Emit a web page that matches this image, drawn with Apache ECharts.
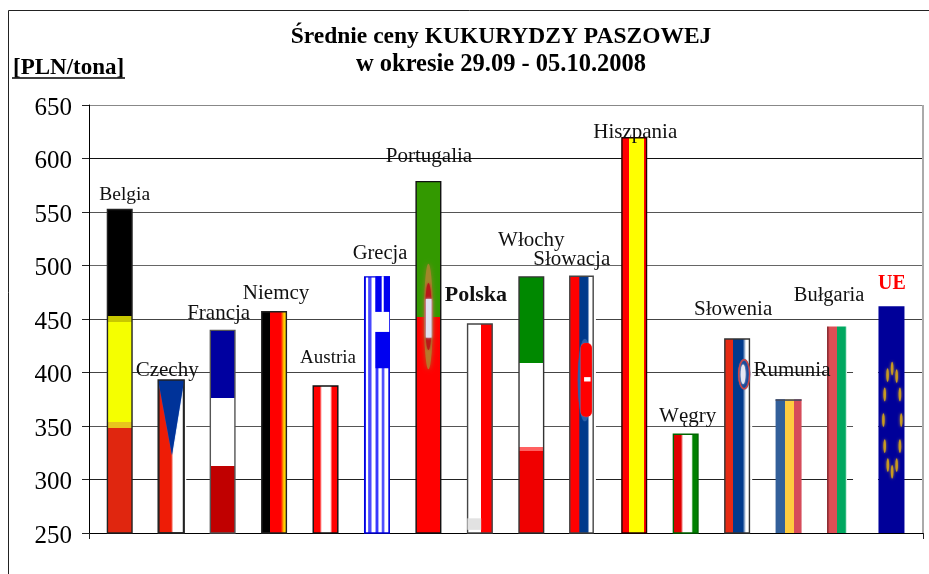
<!DOCTYPE html>
<html>
<head>
<meta charset="utf-8">
<style>html,body{margin:0;padding:0;background:#fff}#c{width:929px;height:574px}</style>
<script src="https://cdn.jsdelivr.net/npm/echarts@6/dist/echarts.min.js"></script>
</head>
<body>
<div id="c"></div>
<script>
const titleLine1 = 'Średnie ceny KUKURYDZY PASZOWEJ';
const titleLine2 = 'w okresie 29.09 - 05.10.2008';
const unitText = '[PLN/tona]';
const categories = ['Belgia','Czechy','Francja','Niemcy','Austria','Grecja','Portugalia','Polska','Włochy','Słowacja','Hiszpania','Węgry','Słowenia','Rumunia','Bułgaria','UE'];
const prices = [553,393,440,457.5,388,490,579,446,490,490,620,343,432,375,443,462];
const axisMin = 250, axisMax = 650, axisStep = 50;

/* ---- appearance only ---- */
const serif = '"Liberation Serif","Times New Roman",serif';
const barWidth = 26;
const labelOffsets = [[5,-14],[-4,-10],[-4,-16],[2,-17],[2.5,-27],[3,-23],[0.6,-24],[-4,-28],[0,-36],[-11,-17],[1,-5],[2,-17.5],[-4,-29],[3.4,-29],[-11,-30.5],[0.5,-22]];
const labelFonts = {Austria:19, Belgia:19.5, Polska:22, UE:20, Grecja:20.5, 'Bułgaria':20.5};
const labelSpecial = {Polska:{fontWeight:'bold'}, UE:{fontWeight:'bold',color:'#ff0000'}};

/* [colour, start, end] bands; a gap between bands gives a soft edge */
const flags = [
 {d:'v',b:'#222',s:[['#000',0,.33],['#c8c800',.33,.349],['#f5ff00',.349,.656],['#e8c51e',.656,.675],['#e0260f',.675,1]]},
 {d:'h',b:'#222',s:[['#ee1c06',0,.5],['#fff',.58,1]]},
 {d:'v',b:'#555',s:[['#0000a0',0,.333],['#fff',.333,.669],['#c00000',.669,1]]},
 {d:'h',b:'#222',s:[['#000',0,.35],['#ff0000',.35,.76],['#ffd000',.88,1]]},
 {d:'h',b:'#111',s:[['#ff0000',0,.28],['#fff',.36,.68],['#ff0000',.76,1]]},
 {d:'h',b:'#0000e0',s:[['#0000f0',0,.05],['#fff',.09,.14],['#4848ff',.18,.27],['#fff',.31,.42],['#3838ff',.47,.53],['#fff',.58,.66],['#5050ff',.71,.76],['#fff',.81,.93],['#0000f0',.96,1]]},
 {d:'v',b:'#111',s:[['#339900',0,.386],['#ff0000',.386,1]]},
 {d:'h',b:'#444',s:[['#fff',0,.55],['#ff0000',.55,1]]},
 {d:'v',b:'#333',s:[['#008800',0,.337],['#fff',.337,.664],['#ff6060',.664,.68],['#f00000',.68,1]]},
 {d:'h',b:null,s:[['#ff0000',0,.36],['#003a8c',.38,.68],['#fff',.76,1]]},
 {d:'h',b:'#200',s:[['#ff0000',0,.28],['#ffff00',.28,.885],['#ff0000',.885,1]]},
 {d:'h',b:'#060',s:[['#e00000',0,.32],['#fff',.4,.72],['#008000',.78,1]]},
 {d:'h',b:'#333',s:[['#e52a14',0,.36],['#003a8c',.36,.72],['#fff',.84,1]]},
 {d:'h',b:null,s:[['#33609a',0,.35],['#ffcc40',.35,.72],['#d64c5a',.72,1]]},
 {d:'h',b:null,s:[['#8a2a30',0,.03],['#dd4f55',.1,.385],['#00a860',.385,.7],['#ffffff',.76,.77],['rgba(255,255,255,0)',.77,1]]},
 {d:'h',b:null,s:[['#000099',0,1]]}
];

/* white margins behind some pictures, [x0,y0,x1,y1] as fractions of the bar */
const halos = {1:[[1,.0,1.08,1]],9:[[.9,0,1,1]],12:[[1,0,1.08,1]],14:[[1,0,1.96,1]]};

const star = (x,y)=>({k:'ell',cx:x,cy:y,rx:.05,ry:.03,fill:'#c89a20',blur:3,shadow:'#b89030'});
/* overlays, in fractions of the bar rectangle */
const overlays = {
 1:[{k:'poly',pts:[[0,0],[1,0],[.53,.49]],fill:'#003399',blur:1,shadow:'#3366cc'},
    {k:'rect',r:[0,0,1,1],fill:'none',stroke:'#222'}],
 5:[{k:'rect',r:[.44,0,1,.358],fill:'#0000f0'},{k:'rect',r:[.68,0,.76,.139],fill:'#ffffff'},{k:'rect',r:[.36,.139,.97,.217],fill:'#ffffff'}],
 6:[{k:'ell',cx:.5,cy:.385,rx:.17,ry:.15,fill:'rgba(176,132,48,0.8)',blur:5,shadow:'#a07a30'},
    {k:'ell',cx:.5,cy:.385,rx:.13,ry:.095,fill:'#b81818',blur:3,shadow:'#c01818'},
    {k:'rect',r:[.4,.335,.62,.445],fill:'#dfe0f0',blur:3,shadow:'#c0c0e0'}],
 7:[{k:'rect',r:[.02,.93,.55,.985],fill:'#e2e2e2'}],
 9:[{k:'rect',r:[.0,0,.9,1],fill:'none',stroke:'#444'},
    {k:'ell',cx:.58,cy:.405,rx:.27,ry:.16,fill:'#2a5fa8',blur:1,shadow:'#2a5fa8'},
    {k:'rect',r:[.42,.26,.85,.547],fill:'#ff0000',round:5,blur:1,shadow:'#ff6060'},
    {k:'rect',r:[.55,.393,.8,.41],fill:'#fff'}],
 12:[{k:'ell',cx:.77,cy:.185,rx:.21,ry:.075,fill:'#1a4a9a',stroke:'#d04040',blur:1,shadow:'#5070b0'},
    {k:'ell',cx:.73,cy:.185,rx:.09,ry:.05,fill:'#e8e8f4',blur:2,shadow:'#ffffff'}],
 13:[{k:'rect',r:[0,0,1,.012],fill:'#444a60'}],
 15:[star(.525,.275),star(.35,.304),star(.7,.308),star(.24,.389),star(.825,.389),star(.19,.502),star(.875,.502),star(.24,.617),star(.825,.617),star(.36,.70),star(.7,.70),star(.525,.73)]
};

function flagFill(f){
  const st=[];
  f.s.forEach(b=>{st.push({offset:b[1],color:b[0]});st.push({offset:b[2],color:b[0]});});
  return {type:'linear',x:0,y:0,x2:f.d==='h'?1:0,y2:f.d==='h'?0:1,colorStops:st};
}

function shapesRenderer(table){
  return function(params,api){
    const i=api.value(0), top=api.coord([i,api.value(1)]), base=api.coord([i,axisMin]);
    const x0=top[0]-barWidth/2, y0=top[1], h=base[1]-top[1];
    const X=f=>x0+f*barWidth, Y=f=>y0+f*h;
    const children=(table[i]||[]).map(s=>{
      const style={fill:s.fill,stroke:s.stroke||null,lineWidth:s.stroke?1.4:0,shadowBlur:s.blur||0,shadowColor:s.shadow||'transparent'};
      if(s.k==='rect') return {type:'rect',shape:{x:X(s.r[0]),y:Y(s.r[1]),width:(s.r[2]-s.r[0])*barWidth,height:(s.r[3]-s.r[1])*h,r:s.round||0},style};
      if(s.k==='ell') return {type:'ellipse',shape:{cx:X(s.cx),cy:Y(s.cy),rx:s.rx*barWidth,ry:s.ry*h},style};
      return {type:'polygon',shape:{points:s.pts.map(p=>[X(p[0]),Y(p[1])])},style};
    });
    return {type:'group',children};
  };
}

const haloTable={};
Object.keys(halos).forEach(k=>{haloTable[k]=halos[k].map(r=>({k:'rect',r,fill:'#fff'}));});

const points=prices.map((v,i)=>[i,v]);
const barData=prices.map((v,i)=>{
  const f=flags[i], name=categories[i];
  return {
    value:v,
    itemStyle:{color:flagFill(f),borderColor:f.b||'transparent',borderWidth:f.b?1.4:0},
    label:Object.assign({offset:labelOffsets[i],fontSize:labelFonts[name]||21},labelSpecial[name]||{})
  };
});

const chart=echarts.init(document.getElementById('c'),null,{renderer:'canvas'});
chart.setOption({
  animation:false,
  backgroundColor:'#fff',
  textStyle:{fontFamily:serif},
  title:[
    {text:titleLine1,left:496,top:20,textAlign:'center',
     textStyle:{fontFamily:serif,fontWeight:'bold',fontSize:23.5,color:'#000'}},
    {text:titleLine2,left:496,top:47,textAlign:'center',
     textStyle:{fontFamily:serif,fontWeight:'bold',fontSize:24.5,color:'#000'}},
    {text:unitText,left:8,top:52,textStyle:{fontFamily:serif,fontWeight:'bold',fontSize:23,color:'#000'}}
  ],
  graphic:[
    {type:'rect',silent:true,z:-1,shape:{x:8.5,y:10.5,width:1100,height:1000},style:{fill:'none',stroke:'#222',lineWidth:1}},
    {type:'line',silent:true,shape:{x1:12,y1:78,x2:125,y2:78},style:{stroke:'#000',lineWidth:1.5}}
  ],
  grid:[
    {left:89,right:6,top:105,bottom:41},
    {left:94,width:823.2,top:105,bottom:41}
  ],
  xAxis:[
    {type:'value',gridIndex:0,min:0,max:1,interval:1,
     axisLine:{show:true,lineStyle:{color:'#000',width:1}},
     axisTick:{show:true,length:6,lineStyle:{color:'#222'}},
     axisLabel:{show:false},
     splitLine:{show:true,showMinLine:false,lineStyle:{color:'#aaa',width:2}}},
    {type:'category',gridIndex:1,data:categories,show:false}
  ],
  yAxis:[
    {type:'value',gridIndex:0,min:axisMin,max:axisMax,interval:axisStep,
     axisLine:{show:true,onZero:false,lineStyle:{color:'#000',width:1}},
     axisTick:{show:true,length:7,lineStyle:{color:'#222'}},
     axisLabel:{fontFamily:serif,fontSize:25,color:'#000',margin:17,
                formatter:'{n|{value}}',rich:{n:{fontFamily:serif,fontSize:25,color:'#000',padding:[6,0,0,0]}}},
     splitLine:{show:true,lineStyle:{color:['#000','#222','#555','#444','#444','#666','#555','#111','#888'],width:1}}},
    {type:'value',gridIndex:1,min:axisMin,max:axisMax,interval:axisStep,show:false,splitLine:{show:false}}
  ],
  series:[
    {type:'custom',name:'margins',xAxisIndex:1,yAxisIndex:1,z:1,silent:true,clip:false,
     data:points,encode:{x:0,y:1},renderItem:shapesRenderer(haloTable)},
    {type:'bar',name:'Ceny',xAxisIndex:1,yAxisIndex:1,z:2,barWidth:barWidth,silent:true,data:barData,
     label:{show:true,position:'top',distance:0,verticalAlign:'middle',
            formatter:p=>p.name,color:'#111',fontFamily:serif,fontSize:21}},
    {type:'custom',name:'emblems',xAxisIndex:1,yAxisIndex:1,z:3,silent:true,clip:false,
     data:points,encode:{x:0,y:1},renderItem:shapesRenderer(overlays)}
  ]
});
</script>
</body>
</html>
